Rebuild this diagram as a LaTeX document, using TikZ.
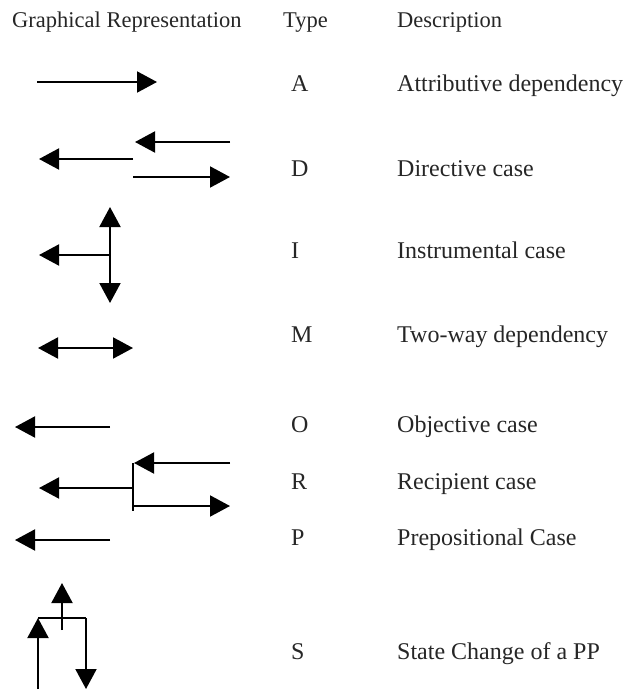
\documentclass[tikz,border=0pt]{standalone}
\usepackage{fontspec}
\setmainfont{Liberation Serif}
\usetikzlibrary{arrows.meta,calc}
\tikzset{
    rel/.style={
        ,   line width=2pt
        ,   -{Triangle[length=20pt,width=21pt]}
    },
    relBoth/.style={
        ,   line width=2pt
        ,   {Triangle[length=20pt,width=21pt]}-{Triangle[length=20pt,width=21pt]}
    },
    relBar/.style={
        ,   line width=2pt
    },
    headText/.style={
        ,   anchor=base west
        ,   inner sep=0pt
        ,   font={\fontsize{22.5pt}{26pt}\selectfont}
    },
    cellText/.style={
        ,   anchor=base west
        ,   inner sep=0pt
        ,   font={\fontsize{24pt}{28pt}\selectfont}
    }
}

\begin{document}
\begin{tikzpicture}[x=1pt, y=-1pt, text=black!85]
\useasboundingbox (0,0) rectangle (634,690);

% header
\node[headText] (hGraph) at (12,28) {Graphical Representation};
\node[headText] (hType) at (283,28) {Type};
\node[headText] (hDesc) at (397,28) {Description};

% rows: baseline / type / description
\foreach \y/\t/\d in {92/A/Attributive dependency, 176/D/Directive case,
    258/I/Instrumental case, 342/M/Two-way dependency, 432/O/Objective case,
    489/R/Recipient case, 545/P/Prepositional Case, 659/S/State Change of a PP}{
  \node[cellText] (type\t) at (291,\y) {\t};
  \node[cellText] (desc\t) at (397,\y) {\d};
}

% A
\coordinate (A1) at (37,82);
\coordinate (A2) at (157,82);
\draw[rel] (A1) -- (A2);

% D
\coordinate (DU1) at (230,142);
\coordinate (DU2) at (135,142);
\coordinate (DM) at (133,159);
\coordinate (DL) at (39,159);
\coordinate (DR1) at (133,177);
\coordinate (DR2) at (230,177);
\draw[rel] (DU1) -- (DU2);
\draw[rel] (DM) -- (DL);
\draw[rel] (DR1) -- (DR2);

% I
\coordinate (IC) at (110,255);
\coordinate (IT) at (110,207);
\coordinate (IB) at (110,303);
\coordinate (IL) at (39,255);
\draw[relBoth] (IT) -- (IB);
\draw[rel] (IC) -- (IL);

% M
\coordinate (M1) at (38,348);
\coordinate (M2) at (133,348);
\draw[relBoth] (M1) -- (M2);

% O
\coordinate (O1) at (110,427);
\coordinate (O2) at (15,427);
\draw[rel] (O1) -- (O2);

% R
\coordinate (RT) at (133,463);
\coordinate (RB) at (133,511);
\coordinate (RU) at (230,463);
\coordinate (RM) at (133,488);
\coordinate (RL) at (39,488);
\coordinate (RR1) at (133,506);
\coordinate (RR2) at (230,506);
\draw[relBar] (RT) -- (RB);
\draw[rel] (RU) -- ($(RT)+(1,0)$);
\draw[rel] (RM) -- (RL);
\draw[rel] (RR1) -- (RR2);

% P
\coordinate (P1) at (110,540);
\coordinate (P2) at (15,540);
\draw[rel] (P1) -- (P2);

% S
\coordinate (SL) at (38,618);
\coordinate (SR) at (86,618);
\coordinate (SM) at (62,630);
\coordinate (SMT) at (62,583);
\coordinate (SLB) at (38,689);
\coordinate (SRB) at (86,689);
\draw[relBar] (SL) -- (SR);
\draw[rel] (SM) -- (SMT);
\draw[rel] (SLB) -- (SL);
\draw[rel] (SR) -- (SRB);
\end{tikzpicture}
\end{document}
